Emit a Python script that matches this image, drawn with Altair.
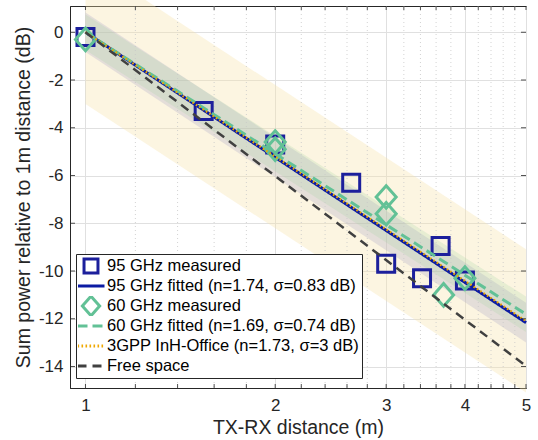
import altair as alt
import pandas as pd
import numpy as np

# ---- data ----
series_names = [
    "95 GHz measured",
    "95 GHz fitted (n=1.74, σ=0.83 dB)",
    "60 GHz measured",
    "60 GHz fitted (n=1.69, σ=0.74 dB)",
    "3GPP InH-Office (n=1.73, σ=3 dB)",
    "Free space",
]
series_colors = ["#1c1f9c", "#0b1ba3", "#62c196", "#62c196", "#f0a800", "#404040"]

sq_x = [1.0, 1.54, 2.0, 2.64, 3.0, 3.42, 3.66, 4.0]
sq_y = [-0.2, -3.3, -4.7, -6.3, -9.7, -10.3, -8.95, -10.4]
dm_x = [1.0, 2.0, 2.0, 3.0, 3.0, 3.70, 4.0]
dm_y = [-0.3, -4.6, -4.9, -6.9, -7.6, -11.0, -10.3]

fit_names = [series_names[1], series_names[3], series_names[4], series_names[5]]
fit_n = [1.74, 1.69, 1.73, 2.0]
fit_sigma = [0.83, 0.74, 3.0, 0.0]
line_d = [1.0, 5.0]

x_ticks = [1, 2, 3, 4, 5]
x_minor = [1.2, 1.4, 1.6, 1.8, 2.2, 2.4, 2.6, 2.8, 3.2, 3.4, 3.6, 3.8, 4.2, 4.4, 4.6, 4.8]
y_ticks = [-14, -12, -10, -8, -6, -4, -2, 0]

# ---- tables ----
meas = pd.DataFrame(
    {"d": sq_x + dm_x, "pl": sq_y + dm_y,
     "series": [series_names[0]] * len(sq_x) + [series_names[2]] * len(dm_x)}
)
rows = []
for name, n, s in zip(fit_names, fit_n, fit_sigma):
    for d in line_d:
        pl = -10 * n * np.log10(d)
        rows.append({"d": d, "pl": pl, "lo": pl - s, "hi": pl + s, "series": name})
fits = pd.DataFrame(rows)
xminor_df = pd.DataFrame({"d": x_minor})
xall_df = pd.DataFrame({"d": x_ticks + x_minor})
yt_df = pd.DataFrame({"v": y_ticks})

W, H = 456, 382
FONT = "Liberation Sans"
TXT = "#262626"

xscale = alt.Scale(type="log", domain=[0.945, 5], nice=False)
yscale = alt.Scale(domain=[-14.9, 1.1], nice=False, zero=False)

X = alt.X("d:Q", scale=xscale,
          axis=alt.Axis(values=x_ticks, labelExpr="'' + datum.value", title="TX-RX distance (m)",
                        grid=True, ticks=False, labelPadding=9, titlePadding=5, labelFlush=False))
Y = alt.Y("pl:Q", scale=yscale,
          axis=alt.Axis(values=y_ticks, labelExpr="'' + datum.value",
                        title="Sum power relative to 1m distance (dB)",
                        grid=True, ticks=False, labelPadding=7, titlePadding=5))

LEG = dict(title=None, orient="none", legendX=6, legendY=248)
color = alt.Color("series:N", scale=alt.Scale(domain=series_names, range=series_colors),
                  legend=alt.Legend(**LEG))
shape = alt.Shape("series:N", scale=alt.Scale(
    domain=series_names,
    range=["M-0.93,-0.93L0.93,-0.93L0.93,0.93L-0.93,0.93Z",
           "M-1.8,0L1.8,0",
           "M0,-1.3L1.15,0L0,1.3L-1.15,0Z",
           "M-1.8,0L1.8,0",
           "M-1.8,0L1.8,0",
           "M-1.8,0L1.8,0"]),
    legend=alt.Legend(**LEG))
dash = alt.StrokeDash("series:N", scale=alt.Scale(
    domain=series_names,
    range=[[1, 0], [1, 0], [1, 0], [10, 5], [1.6, 2.4], [9, 6]]),
    legend=alt.Legend(**LEG))

def band(name, fill, op):
    return alt.Chart(fits[fits.series == name]).mark_area(
        fill=fill, opacity=op, strokeWidth=0
    ).encode(x=alt.X("d:Q", scale=xscale), y=alt.Y("lo:Q", scale=yscale), y2="hi:Q")

band3 = band(series_names[4], "#f5e3a8", 0.35)
band95 = band(series_names[1], "#9a96c0", 0.24)
band60 = band(series_names[3], "#9fd0a0", 0.22)

minor_grid = alt.Chart(xminor_df).mark_rule(color="#c8c8c8", strokeWidth=0.8, strokeDash=[1, 3]).encode(
    x=alt.X("d:Q", scale=xscale))

tick_top = alt.Chart(xall_df).mark_rule(color=TXT, strokeWidth=0.8).encode(
    x=alt.X("d:Q", scale=xscale), y=alt.value(0), y2=alt.value(4))
tick_bot = alt.Chart(xall_df).mark_rule(color=TXT, strokeWidth=0.8).encode(
    x=alt.X("d:Q", scale=xscale), y=alt.value(H), y2=alt.value(H - 4))
tick_l = alt.Chart(yt_df).mark_rule(color=TXT, strokeWidth=0.8).encode(
    y=alt.Y("v:Q", scale=yscale), x=alt.value(0), x2=alt.value(5))
tick_r = alt.Chart(yt_df).mark_rule(color=TXT, strokeWidth=0.8).encode(
    y=alt.Y("v:Q", scale=yscale), x=alt.value(W), x2=alt.value(W - 5))

def pts(name, size):
    return alt.Chart(meas[meas.series == name]).mark_point(
        filled=False, strokeWidth=3, size=size, opacity=1
    ).encode(x=X, y=Y, color=color, shape=shape)

def line(name, sw):
    return alt.Chart(fits[fits.series == name]).mark_line(strokeWidth=sw).encode(
        x=X, y=Y, color=color, strokeDash=dash)

chart = alt.layer(
    band3, band95, band60, minor_grid,
    pts(series_names[0], 334),
    line(series_names[1], 3),
    pts(series_names[2], 303),
    line(series_names[3], 3),
    line(series_names[4], 2.2),
    line(series_names[5], 2.5),
    tick_top, tick_bot, tick_l, tick_r,
).properties(
    width=W, height=H,
    autosize=alt.AutoSizeParams(type="none"),
    padding={"left": 70, "top": 6, "right": 12, "bottom": 52},
).configure_view(
    stroke=TXT, strokeWidth=1
).configure_axis(
    labelFont=FONT, labelFontSize=17, labelColor=TXT,
    titleFont=FONT, titleFontSize=19.5, titleColor=TXT, titleFontWeight="normal",
    domainColor=TXT, gridColor="#e0e0e0", gridWidth=1, gridOpacity=1,
).configure_legend(
    labelFont=FONT, labelFontSize=16.5, labelColor="black", labelLimit=500,
    symbolSize=225, symbolStrokeWidth=3, symbolFillColor="transparent",
    strokeColor=TXT, fillColor="white", padding=2, cornerRadius=0,
    symbolOffset=4, labelOffset=7, rowPadding=0, clipHeight=20,
)

chart.save("out.html", embed_options={"renderer": "svg", "actions": False})
